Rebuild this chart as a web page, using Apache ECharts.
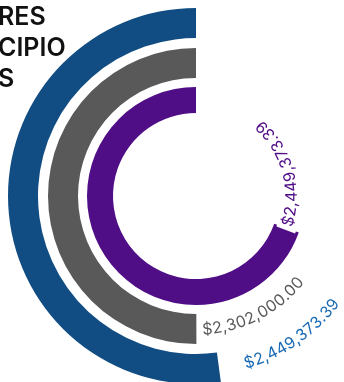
<!DOCTYPE html>
<html>
<head>
<meta charset="utf-8">
<script src="https://cdn.jsdelivr.net/npm/echarts@6/dist/echarts.min.js"></script>
<style>
  html, body { margin: 0; padding: 0; background: #fff; }
  #chart { width: 344px; height: 382px; }
</style>
</head>
<body>
<div id="chart"></div>
<script>
// Heading fragments shown at the top left
const titleLines = ['RES', 'CIPIO', 'S'];

// One ring per entry, outermost first
const ringNames = ['Anillo 1', 'Anillo 2', 'Anillo 3'];
const ringValues = [2449373.39, 2302000.00, 2449373.39];
// Full-circle value of each ring's angle scale
const ringScaleMax = [4700000, 4600000, 3520000];

const ringColors = ['#114d82', '#595959', '#4f0d86'];
const labelColors = ['#1a6bb5', '#595959', '#4f0d86'];
const ringRadii = [[158, 188], [118, 148], [83, 109]];
// gap (px along the arc) between a ring's end and its label, and radial nudge
const labelGap = [26, 6, 2];
const labelLift = [2, 1, 0];

const LABEL_FONT = '16px Inter';
const money = v => '$' + v.toLocaleString('en-US', { minimumFractionDigits: 2, maximumFractionDigits: 2 });

const measureCtx = document.createElement('canvas').getContext('2d');

// Value label bent along the ring, starting just past the ring's end and
// running counter-clockwise, glyph tops facing the centre.
function arcLabel(i) {
  return function (params, api) {
    const cs = params.coordSys;
    const value = api.value(1);
    const end = api.coord([api.value(0), value]);
    const dx = end[0] - cs.cx;
    const dy = end[1] - cs.cy;
    const R = Math.sqrt(dx * dx + dy * dy) + labelLift[i];
    const endTheta = Math.atan2(dy, dx);
    const text = money(value);

    measureCtx.font = LABEL_FONT;
    let s = labelGap[i];
    const glyphs = [];
    for (const ch of text) {
      const w = measureCtx.measureText(ch).width;
      const th = endTheta - (s + w / 2) / R;
      glyphs.push({
        type: 'text',
        x: cs.cx + R * Math.cos(th),
        y: cs.cy + R * Math.sin(th),
        rotation: Math.PI / 2 - th,
        style: {
          text: ch,
          fill: labelColors[i],
          font: LABEL_FONT,
          align: 'center',
          verticalAlign: 'middle'
        }
      });
      s += w;
    }
    // white plate under the glyphs
    const back = {
      type: 'sector',
      shape: {
        cx: cs.cx,
        cy: cs.cy,
        r0: R - 10,
        r: R + 10,
        startAngle: endTheta - (s + 3) / R,
        endAngle: endTheta - (labelGap[i] - 4) / R,
        clockwise: true
      },
      style: { fill: '#fff' }
    };
    return { type: 'group', children: [back].concat(glyphs) };
  };
}

const chart = echarts.init(document.getElementById('chart'), null, { renderer: 'canvas' });

const option = {
  animation: false,
  title: {
    text: titleLines.join('\n'),
    left: -2,
    top: 2,
    padding: 0,
    textStyle: {
      fontFamily: 'Inter',
      fontSize: 25,
      fontWeight: 600,
      lineHeight: 31,
      color: '#111'
    }
  },
  polar: ringRadii.map(r => ({ center: [196, 196], radius: r })),
  angleAxis: ringScaleMax.map((m, i) => ({
    polarIndex: i,
    type: 'value',
    min: 0,
    max: m,
    startAngle: 90,
    clockwise: false,
    show: false
  })),
  radiusAxis: ringNames.map((n, i) => ({
    polarIndex: i,
    type: 'category',
    data: [n],
    show: false
  })),
  series: ringValues.map((v, i) => ({
    type: 'bar',
    name: ringNames[i],
    coordinateSystem: 'polar',
    polarIndex: i,
    barCategoryGap: '0%',
    data: [v],
    itemStyle: { color: ringColors[i] }
  })).concat(ringValues.map((v, i) => ({
    type: 'custom',
    name: ringNames[i] + ' valor',
    coordinateSystem: 'polar',
    polarIndex: i,
    silent: true,
    z: 5,
    encode: { radius: 0, angle: 1 },
    data: [[ringNames[i], v]],
    renderItem: arcLabel(i)
  })))
};

chart.setOption(option);
</script>
</body>
</html>
